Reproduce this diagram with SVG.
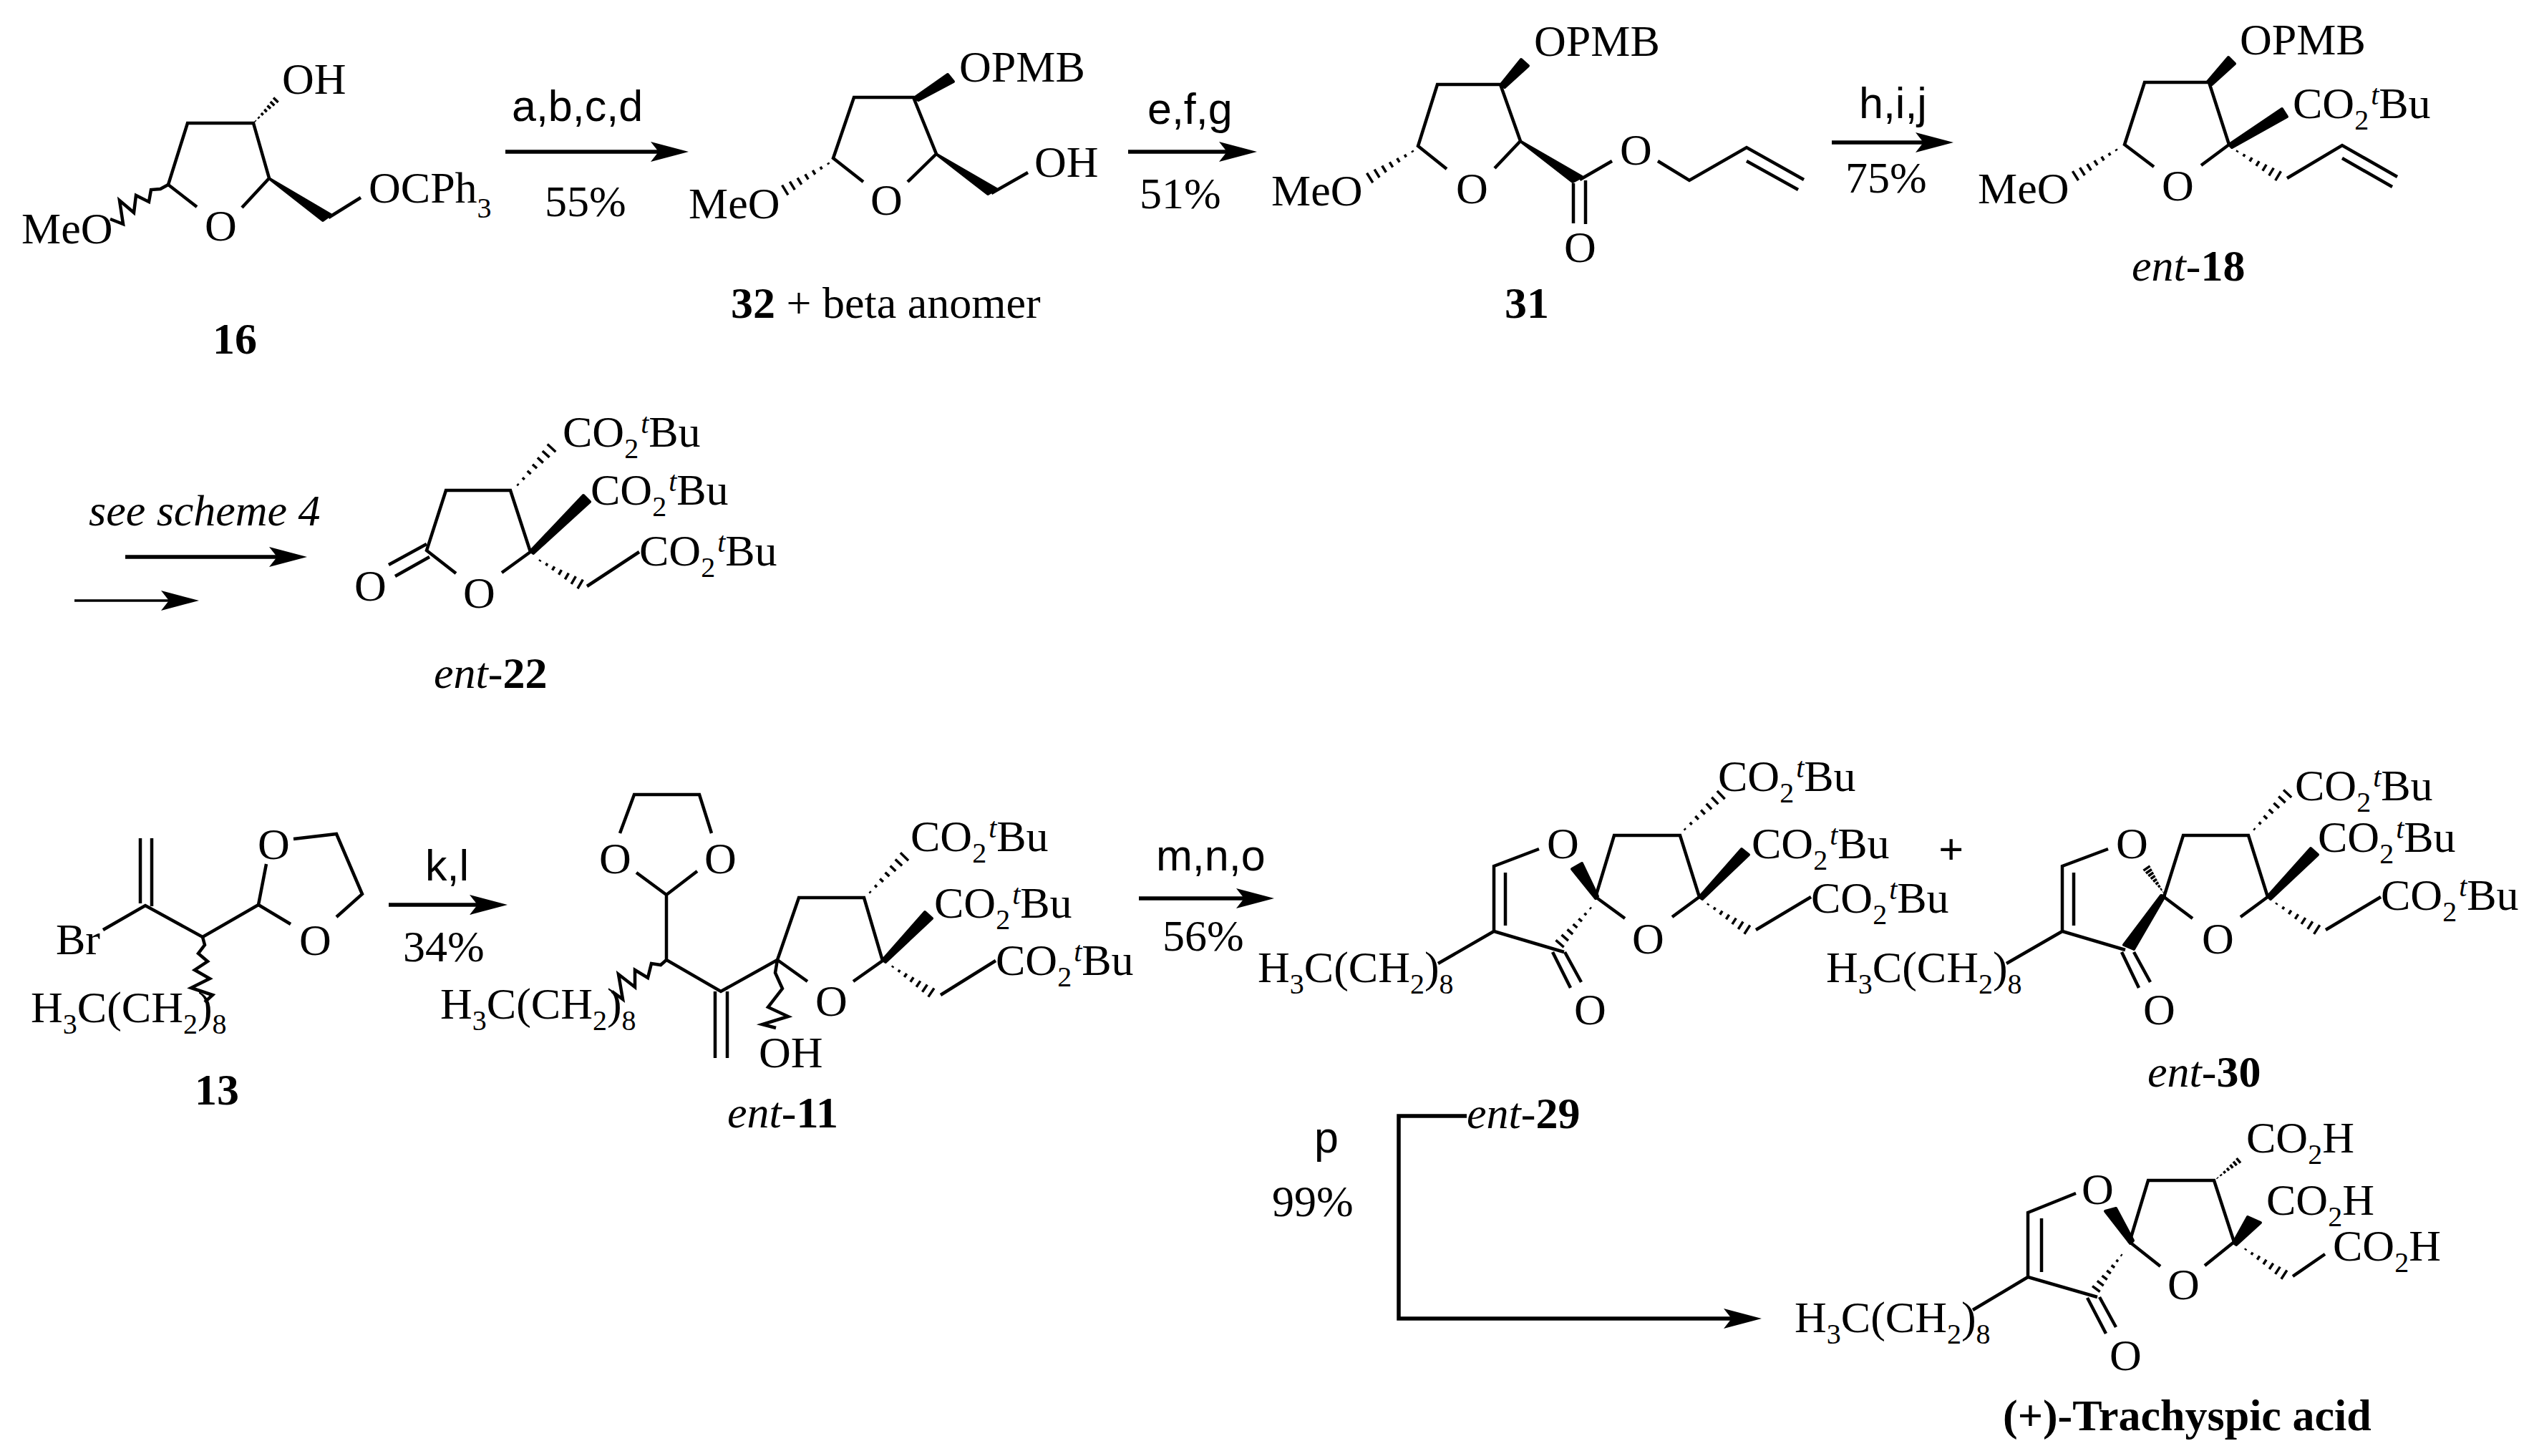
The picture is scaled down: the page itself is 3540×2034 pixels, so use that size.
<svg xmlns="http://www.w3.org/2000/svg" xmlns:xlink="http://www.w3.org/1999/xlink" width="3540" height="2034" viewBox="0 0 3540 2034">
<style>
text{font-family:"Liberation Serif","Times New Roman",serif;font-size:62px;fill:#000}
.s{font-family:"Liberation Sans",Arial,sans-serif;font-size:61px}
.b{font-weight:bold}
.i{font-style:italic}
.sb{font-size:40px}
.n{fill:none;stroke:#000;stroke-width:4.5;stroke-linejoin:miter}
.w{fill:#000;stroke:#000;stroke-width:4;stroke-linejoin:round}
.h{fill:none;stroke:#000;stroke-width:3.5;vector-effect:non-scaling-stroke}
.a{fill:none;stroke:#000;stroke-width:5.5}
</style>
<defs>
<marker id="ah" markerUnits="userSpaceOnUse" markerWidth="56" markerHeight="30" refX="13" refY="14" orient="auto" viewBox="0 0 56 28">
<path d="M0 0L53 14L0 28L11 14Z" fill="#000"/>
</marker>
<path id="hash" class="h" d="M8 -1.5V1.5M22 -2.5V2.5M36 -4V4M50 -5V5M64 -6.5V6.5M78 -8V8M92 -9.5V9.5"/>
<path id="hashr" class="h" d="M4 -1V1M16 -2.5V2.5M28 -4V4M40 -5.5V5.5M52 -7V7M64 -8.5V8.5M76 -10V10M88 -11.5V11.5M100 -13V13"/>
</defs>
<rect width="3540" height="2034" fill="#fff"/>

<g id="connectors">
<path class="a" d="M706 212H922" marker-end="url(#ah)"/>
<path class="a" d="M1576 212H1716" marker-end="url(#ah)"/>
<path class="a" d="M2559 199H2689" marker-end="url(#ah)"/>
<path class="a" d="M175 778H389" marker-end="url(#ah)"/>
<path class="a" style="stroke-width:3.5" d="M104 839H238" marker-end="url(#ah)"/>
<path class="a" d="M543 1264H669" marker-end="url(#ah)"/>
<path class="a" d="M1591 1255H1740" marker-end="url(#ah)"/>
<path class="a" d="M2049 1559H1954V1842H2421" marker-end="url(#ah)"/>
</g>

<g id="reagents">
<text class="s" x="715" y="169">a,b,c,d</text>
<text x="761" y="302">55%</text>
<text class="s" x="1603" y="173">e,f,g</text>
<text x="1592" y="291">51%</text>
<text class="s" x="2597" y="165">h,i,j</text>
<text x="2578" y="269">75%</text>
<text class="i" x="124" y="734">see scheme 4</text>
<text class="s" x="594" y="1230">k,l</text>
<text x="563" y="1343">34%</text>
<text class="s" x="1615" y="1216">m,n,o</text>
<text x="1624" y="1328">56%</text>
<text class="s" x="1836" y="1610">p</text>
<text x="1777" y="1699">99%</text>
<text class="b" x="2708" y="1207">+</text>
</g>

<g id="compound-16">
<path class="n" d="M275 289L235 258L262 172H354L376 249L338 290"/>
<path class="n" d="M235 258L224 264L211 265L208 282L190 273L187 297L167 280L172 313L154 306"/>
<path class="n" d="M459 304L504 276"/>
<polygon class="w" points="377,250 462,300 451,308"/>
<use href="#hash" xlink:href="#hash" transform="matrix(.34,-.35,.35,.34,354,172)"/>
<text x="394" y="131">OH</text>
<text x="30" y="340">MeO</text>
<text x="286" y="336">O</text>
<text x="515" y="283">OCPh<tspan class="sb" dy="21">3</tspan></text>
<text class="b" x="297" y="494">16</text>
</g>

<g id="compound-32">
<path class="n" d="M1206 254L1164 221L1193 136H1276L1308 215L1268 254"/>
<path class="n" d="M1385 270L1436 241"/>
<polygon class="w" points="1277,137 1324,104 1332,114 1283,140"/>
<polygon class="w" points="1309,216 1392,264 1380,271"/>
<use href="#hash" xlink:href="#hash" transform="matrix(-.72,.44,-.44,-.72,1163,225)"/>
<text x="1340" y="114">OPMB</text>
<text x="1445" y="247">OH</text>
<text x="1216" y="300">O</text>
<text x="962" y="305">MeO</text>
<text x="1021" y="444"><tspan class="b">32</tspan> + beta anomer</text>
</g>

<g id="compound-31">
<path class="n" d="M2021 236L1981 204L2008 118H2096L2124 197L2088 235"/>
<path class="n" d="M2207 251L2252 225M2198 256V312M2215 252V313M2316 225L2360 252L2440 206L2520 251M2440 225L2512 265"/>
<polygon class="w" points="2096,119 2125,83 2135,92 2102,122"/>
<polygon class="w" points="2125,198 2210,247 2197,254"/>
<use href="#hash" xlink:href="#hash" transform="matrix(-.71,.44,-.44,-.71,1979,208)"/>
<text x="2143" y="78">OPMB</text>
<text x="2263" y="230">O</text>
<text x="2185" y="366">O</text>
<text x="2034" y="284">O</text>
<text x="1776" y="287">MeO</text>
<text class="b" x="2102" y="444">31</text>
</g>

<g id="compound-ent-18">
<path class="n" d="M3009 233L2968 202L2996 115H3086L3114 202L3075 231"/>
<path class="n" d="M3195 249L3272 203L3349 247M3272 221L3342 261"/>
<polygon class="w" points="3084,114 3113,80 3122,89 3090,118"/>
<polygon class="w" points="3114,202 3188,152 3195,163 3118,206"/>
<use href="#hash" xlink:href="#hash" transform="matrix(-.68,.43,-.43,-.68,2962,206)"/>
<use href="#hash" xlink:href="#hash" transform="matrix(.68,.41,-.41,.68,3120,208)"/>
<text x="3129" y="76">OPMB</text>
<text x="3203" y="165">CO<tspan class="sb" dy="16">2</tspan><tspan class="sb i" dy="-35" dx="3">t</tspan><tspan dy="19">Bu</tspan></text>
<text x="3020" y="280">O</text>
<text x="2763" y="284">MeO</text>
<text x="2978" y="392"><tspan class="i">ent</tspan>-<tspan class="b">18</tspan></text>
</g>

<g id="compound-ent-22">
<path class="n" d="M637 801L596 769L623 685H713L741 771L701 800"/>
<path class="n" d="M596 760L543 789M600 778L552 805M820 819L893 771"/>
<polygon class="w" points="741,770 815,692 824,701 745,773"/>
<use href="#hash" xlink:href="#hash" transform="matrix(.56,-.61,.61,.56,719,682)"/>
<use href="#hash" xlink:href="#hash" transform="matrix(.67,.39,-.39,.67,749,780)"/>
<text x="786" y="624">CO<tspan class="sb" dy="16">2</tspan><tspan class="sb i" dy="-35" dx="3">t</tspan><tspan dy="19">Bu</tspan></text>
<text x="825" y="705">CO<tspan class="sb" dy="16">2</tspan><tspan class="sb i" dy="-35" dx="3">t</tspan><tspan dy="19">Bu</tspan></text>
<text x="893" y="790">CO<tspan class="sb" dy="16">2</tspan><tspan class="sb i" dy="-35" dx="3">t</tspan><tspan dy="19">Bu</tspan></text>
<text x="647" y="849">O</text>
<text x="495" y="839">O</text>
<text x="606" y="961"><tspan class="i">ent</tspan>-<tspan class="b">22</tspan></text>
</g>

<g id="compound-13">
<path class="n" d="M196 1171V1262M212 1171V1266M144 1299L203 1265L283 1309L361 1264L372 1207M410 1172L470 1165L506 1249L470 1281M361 1264L406 1291"/>
<path class="n" d="M283 1309L286 1320L277 1332L290 1343L272 1355L293 1367L267 1380L297 1390L286 1400"/>
<text x="78" y="1333">Br</text>
<text x="360" y="1200">O</text>
<text x="418" y="1334">O</text>
<text x="43" y="1428">H<tspan class="sb" dy="16">3</tspan><tspan dy="-16">C(CH</tspan><tspan class="sb" dy="16">2</tspan><tspan dy="-16">)</tspan><tspan class="sb" dy="16">8</tspan></text>
<text class="b" x="272" y="1543">13</text>
</g>

<g id="compound-ent-11">
<path class="n" d="M866 1164L886 1110H977L994 1164M889 1219L931 1250L974 1217M931 1250V1341L1007 1385L1086 1341M999 1385V1478M1016 1385V1478"/>
<path class="n" d="M931 1341L923 1348L910 1346L905 1366L887 1355L887 1379L864 1361L870 1396L855 1385"/>
<path class="n" d="M1128 1371L1086 1341L1116 1254H1207L1233 1342L1192 1371"/>
<path class="n" d="M1086 1341L1083 1359L1093 1381L1073 1407L1101 1420L1065 1431L1084 1436"/>
<path class="n" d="M1314 1390L1391 1342"/>
<polygon class="w" points="1233,1341 1292,1274 1302,1283 1237,1344"/>
<use href="#hash" xlink:href="#hash" transform="matrix(.57,-.59,.59,.57,1211,1251)"/>
<use href="#hash" xlink:href="#hash" transform="matrix(.64,.43,-.43,.64,1242,1347)"/>
<text x="837" y="1220">O</text>
<text x="984" y="1220">O</text>
<text x="615" y="1423">H<tspan class="sb" dy="16">3</tspan><tspan dy="-16">C(CH</tspan><tspan class="sb" dy="16">2</tspan><tspan dy="-16">)</tspan><tspan class="sb" dy="16">8</tspan></text>
<text x="1139" y="1419">O</text>
<text x="1060" y="1491">OH</text>
<text x="1272" y="1189">CO<tspan class="sb" dy="16">2</tspan><tspan class="sb i" dy="-35" dx="3">t</tspan><tspan dy="19">Bu</tspan></text>
<text x="1305" y="1282">CO<tspan class="sb" dy="16">2</tspan><tspan class="sb i" dy="-35" dx="3">t</tspan><tspan dy="19">Bu</tspan></text>
<text x="1391" y="1362">CO<tspan class="sb" dy="16">2</tspan><tspan class="sb i" dy="-35" dx="3">t</tspan><tspan dy="19">Bu</tspan></text>
<text x="1016" y="1575"><tspan class="i">ent</tspan>-<tspan class="b">11</tspan></text>
</g>

<g id="compound-ent-29">
<path class="n" d="M2150 1186L2087 1210V1301L2185 1330M2103 1219V1293M2087 1301L2009 1346"/>
<path class="n" d="M2270 1283L2229 1253L2255 1167H2347L2374 1253L2336 1281"/>
<path class="n" d="M2169 1330L2194 1380M2186 1330L2209 1372M2453 1299L2530 1253"/>
<polygon class="w" points="2229,1255 2196,1214 2210,1206 2232,1252"/>
<polygon class="w" points="2374,1253 2433,1186 2443,1194 2378,1256"/>
<use href="#hash" xlink:href="#hash" transform="matrix(-.51,.59,-.59,-.51,2226,1264)"/>
<use href="#hash" xlink:href="#hash" transform="matrix(.6,-.57,.57,.6,2349,1163)"/>
<use href="#hash" xlink:href="#hash" transform="matrix(.65,.42,-.42,.65,2381,1260)"/>
<text x="2161" y="1199">O</text>
<text x="2280" y="1332">O</text>
<text x="2199" y="1431">O</text>
<text x="1757" y="1372">H<tspan class="sb" dy="16">3</tspan><tspan dy="-16">C(CH</tspan><tspan class="sb" dy="16">2</tspan><tspan dy="-16">)</tspan><tspan class="sb" dy="16">8</tspan></text>
<text x="2400" y="1105">CO<tspan class="sb" dy="16">2</tspan><tspan class="sb i" dy="-35" dx="3">t</tspan><tspan dy="19">Bu</tspan></text>
<text x="2447" y="1199">CO<tspan class="sb" dy="16">2</tspan><tspan class="sb i" dy="-35" dx="3">t</tspan><tspan dy="19">Bu</tspan></text>
<text x="2530" y="1275">CO<tspan class="sb" dy="16">2</tspan><tspan class="sb i" dy="-35" dx="3">t</tspan><tspan dy="19">Bu</tspan></text>
<text x="2049" y="1576"><tspan class="i">ent</tspan>-<tspan class="b">29</tspan></text>
</g>

<g id="compound-ent-30">
<path class="n" d="M2945 1186L2881 1210V1301L2969 1327M2897 1219V1293M2881 1301L2803 1346"/>
<path class="n" d="M3063 1283L3023 1253L3050 1167H3141L3168 1253L3130 1281"/>
<path class="n" d="M2964 1330L2988 1380M2981 1330L3004 1372M3249 1299L3326 1253"/>
<polygon class="w" points="3024,1252 2981,1326 2967,1320 3019,1251"/>
<polygon class="w" points="3168,1252 3228,1185 3238,1194 3172,1256"/>
<use href="#hashr" xlink:href="#hashr" transform="matrix(-.24,-.35,.35,-.24,3023,1248)"/>
<use href="#hash" xlink:href="#hash" transform="matrix(.55,-.59,.59,.55,3145,1163)"/>
<use href="#hash" xlink:href="#hash" transform="matrix(.67,.43,-.43,.67,3175,1259)"/>
<text x="2956" y="1199">O</text>
<text x="3076" y="1332">O</text>
<text x="2994" y="1431">O</text>
<text x="2551" y="1372">H<tspan class="sb" dy="16">3</tspan><tspan dy="-16">C(CH</tspan><tspan class="sb" dy="16">2</tspan><tspan dy="-16">)</tspan><tspan class="sb" dy="16">8</tspan></text>
<text x="3206" y="1118">CO<tspan class="sb" dy="16">2</tspan><tspan class="sb i" dy="-35" dx="3">t</tspan><tspan dy="19">Bu</tspan></text>
<text x="3238" y="1190">CO<tspan class="sb" dy="16">2</tspan><tspan class="sb i" dy="-35" dx="3">t</tspan><tspan dy="19">Bu</tspan></text>
<text x="3326" y="1271">CO<tspan class="sb" dy="16">2</tspan><tspan class="sb i" dy="-35" dx="3">t</tspan><tspan dy="19">Bu</tspan></text>
<text x="3000" y="1518"><tspan class="i">ent</tspan>-<tspan class="b">30</tspan></text>
</g>

<g id="compound-trachyspic-acid">
<path class="n" d="M2900 1667L2833 1694V1784L2930 1812M2852 1702V1777M2833 1784L2756 1830"/>
<path class="n" d="M3018 1769L2975 1735L3001 1649H3093L3121 1735L3080 1768"/>
<path class="n" d="M2916 1813L2942 1863M2933 1812L2956 1854M3203 1783L3248 1752"/>
<polygon class="w" points="2976,1737 2941,1692 2956,1688 2980,1733"/>
<polygon class="w" points="3120,1736 3140,1700 3158,1708 3124,1739"/>
<use href="#hash" xlink:href="#hash" transform="matrix(-.42,.56,-.56,-.42,2967,1749)"/>
<use href="#hash" xlink:href="#hash" transform="matrix(.35,-.29,.29,.35,3095,1648)"/>
<use href="#hash" xlink:href="#hash" transform="matrix(.64,.42,-.42,.64,3132,1742)"/>
<text x="2908" y="1682">O</text>
<text x="3028" y="1815">O</text>
<text x="2947" y="1914">O</text>
<text x="2507" y="1861">H<tspan class="sb" dy="16">3</tspan><tspan dy="-16">C(CH</tspan><tspan class="sb" dy="16">2</tspan><tspan dy="-16">)</tspan><tspan class="sb" dy="16">8</tspan></text>
<text x="3138" y="1610">CO<tspan class="sb" dy="16">2</tspan><tspan dy="-16">H</tspan></text>
<text x="3166" y="1697">CO<tspan class="sb" dy="16">2</tspan><tspan dy="-16">H</tspan></text>
<text x="3259" y="1761">CO<tspan class="sb" dy="16">2</tspan><tspan dy="-16">H</tspan></text>
<text class="b" x="2798" y="1998">(+)-Trachyspic acid</text>
</g>
</svg>
